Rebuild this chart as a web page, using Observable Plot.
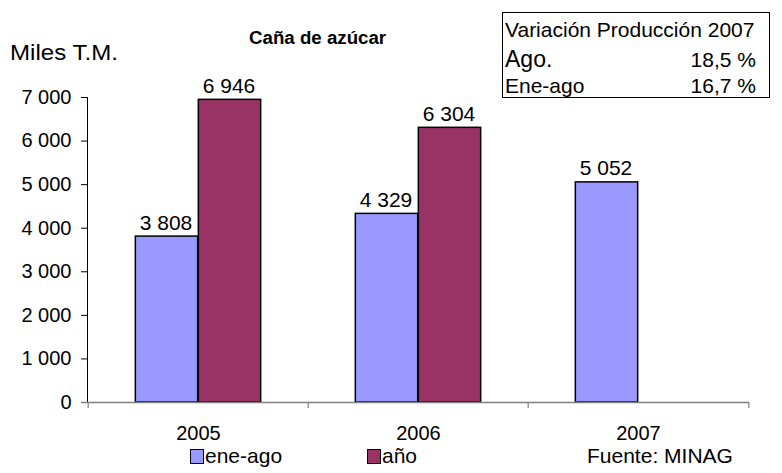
<!DOCTYPE html>
<html>
<head>
<meta charset="utf-8">
<script src="https://cdn.jsdelivr.net/npm/d3@7"></script>
<script src="https://cdn.jsdelivr.net/npm/@observablehq/plot@0.6"></script>
<style>
  html, body { margin: 0; padding: 0; background: #fff; }
  #wrap { position: relative; width: 782px; height: 473px; font-family: "Liberation Sans", Arial, sans-serif; color: #000; overflow: hidden; }
  #wrap svg { position: absolute; left: 0; top: 0; }
  .abs { position: absolute; white-space: nowrap; line-height: 1; }
  .box { position: absolute; border: 1.5px solid #000; box-sizing: border-box; }
  .sw { position: absolute; border: 1.5px solid #000; box-sizing: border-box; }
</style>
</head>
<body>
<div id="wrap"></div>
<script>
const years = ["2005", "2006", "2007"];
const series = ["ene-ago", "año"];
const eneAgo = [3808, 4329, 5052];
const anio = [6946, 6304, null];
const yTicks = [0, 1000, 2000, 3000, 4000, 5000, 6000, 7000];
const colors = ["#9999FF", "#993366"];
const title = "Caña de azúcar";
const yLabel = "Miles T.M.";
const source = "Fuente: MINAG";
const boxTitle = "Variación Producción 2007";
const boxRows = [["Ago.", "18,5 %"], ["Ene-ago", "16,7 %"]];

const W = 782, H = 473;
const mL = 87, mR = 33, mT = 97, mB = 71;
const step = (W - mL - mR) / years.length;
const bw = 63;
const tickLen = 6 * 7000 / (H - mT - mB);

const loc = d3.formatLocale({decimal: ",", thousands: " ", grouping: [3], currency: ["", ""]});
const fmt = loc.format(",");

const dA = years.map((y, i) => ({year: y, value: eneAgo[i]})).filter(d => d.value != null);
const dB = years.map((y, i) => ({year: y, value: anio[i]})).filter(d => d.value != null);

const chart = Plot.plot({
  width: W, height: H,
  marginLeft: mL, marginRight: mR, marginTop: mT, marginBottom: mB,
  style: {fontFamily: '"Liberation Sans", Arial, sans-serif', fontSize: "20px", color: "#000", background: "transparent", overflow: "visible"},
  x: {domain: years, padding: 0, tickSize: 0, tickPadding: 23, label: null},
  y: {domain: [0, 7000], ticks: yTicks, tickFormat: fmt, tickSize: 6, tickPadding: 10, label: null, line: true},
  marks: [
    Plot.barY(dA, {x: "year", y: "value", fill: colors[0], stroke: "#000", strokeWidth: 1.5,
      insetLeft: step / 2 - bw, insetRight: step / 2}),
    Plot.barY(dB, {x: "year", y: "value", fill: colors[1], stroke: "#000", strokeWidth: 1.5,
      insetLeft: step / 2, insetRight: step / 2 - bw}),
    Plot.text(dA, {x: "year", y: "value", text: d => fmt(d.value), dx: -bw / 2 - 1, dy: -7, lineAnchor: "bottom", fontSize: 21}),
    Plot.text(dB, {x: "year", y: "value", text: d => fmt(d.value), dx: bw / 2 - 1, dy: -7, lineAnchor: "bottom", fontSize: 21}),
    Plot.ruleY([0], {stroke: "#808080", strokeWidth: 1.5, insetLeft: -6}),
    Plot.ruleX(years, {x: d => d, dx: -step / 2, y1: 0, y2: -tickLen, stroke: "#808080", strokeWidth: 1.2}),
    Plot.ruleX(years.slice(-1), {x: d => d, dx: step / 2, y1: 0, y2: -tickLen, stroke: "#808080", strokeWidth: 1.2})
  ]
});

const wrap = document.getElementById("wrap");
wrap.appendChild(chart);

// place text by its baseline (line-height 1, Liberation Sans ascent .905 / descent .212)
function place(parent, text, x, baseline, size, extra = {}) {
  const d = document.createElement("div");
  d.className = "abs";
  d.textContent = text;
  Object.assign(d.style, {left: x + "px", top: (baseline - 0.8465 * size) + "px", fontSize: size + "px"}, extra);
  parent.appendChild(d);
  return d;
}
place(wrap, title, 249, 45, 18.7, {fontWeight: "bold"});
place(wrap, yLabel, 10, 61, 21.5, {transform: "scaleX(1.12)", transformOrigin: "left center"});

const box = document.createElement("div");
box.className = "box";
Object.assign(box.style, {left: "502px", top: "12px", width: "268px", height: "86px"});
wrap.appendChild(box);
place(wrap, boxTitle, 505, 37, 21);
place(wrap, boxRows[0][0], 505, 67, 23);
place(wrap, boxRows[1][0], 505, 93, 21);
[67, 93].forEach((b, i) => {
  const d = place(wrap, boxRows[i][1], 0, b, 21);
  d.style.left = "auto";
  d.style.right = (782 - 756) + "px";
});

const legX = [190, 367];
series.forEach((s, i) => {
  const sw = document.createElement("div");
  sw.className = "sw";
  Object.assign(sw.style, {left: legX[i] + "px", top: "449px", width: "14px", height: "15px", background: colors[i]});
  wrap.appendChild(sw);
  place(wrap, s, legX[i] + 15, 463, 21);
});
place(wrap, source, 587, 463, 21);
</script>
</body>
</html>
